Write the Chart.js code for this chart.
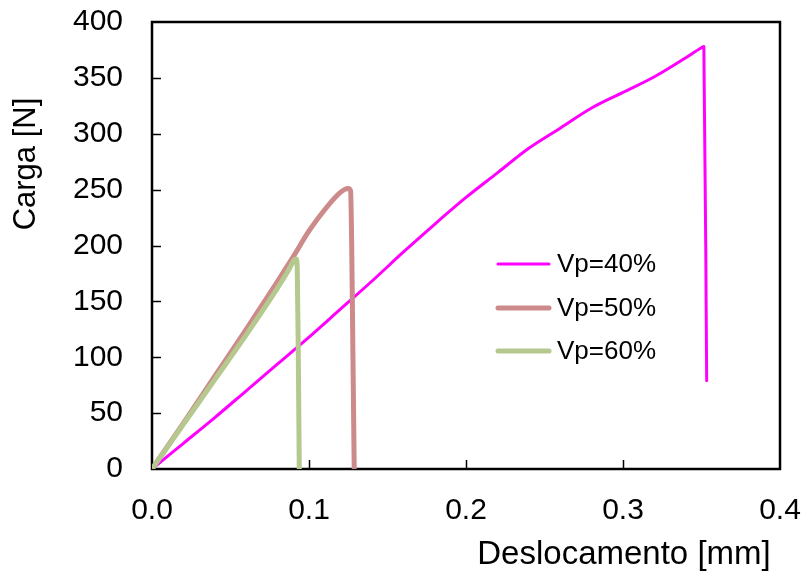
<!DOCTYPE html>
<html>
<head>
<meta charset="utf-8">
<script src="https://cdn.jsdelivr.net/npm/chart.js@4.4.0/dist/chart.umd.min.js"></script>
<style>
html,body{margin:0;padding:0;background:#fff;}
#wrap{width:806px;height:571px;}
</style>
</head>
<body>
<div id="wrap"><canvas id="c" width="806" height="571"></canvas></div>
<script>
// ---- data ----
const seriesLabels = ["Vp=40%", "Vp=50%", "Vp=60%"];

const vp40X = [0, 0.02, 0.04, 0.06, 0.08, 0.10, 0.12, 0.14, 0.16, 0.18, 0.20, 0.22, 0.24, 0.26, 0.28, 0.30, 0.32, 0.34, 0.350, 0.3515, 0.3533];
const vp40Y = [0, 23, 46, 70, 94, 118, 143, 168, 194, 219, 243, 265, 287, 305, 323, 337, 351, 368, 377, 378, 79];

const vp50X = [0, 0.02, 0.04, 0.06, 0.08, 0.09, 0.10, 0.11, 0.118, 0.1225, 0.1250, 0.1265, 0.1272, 0.1280, 0.1288];
const vp50Y = [0, 41, 83, 125, 168, 190, 213, 232, 245, 250, 251, 249, 200, 100, 0];

const vp60X = [0, 0.02, 0.04, 0.06, 0.08, 0.087, 0.0905, 0.0918, 0.0925, 0.0932, 0.0938];
const vp60Y = [0, 40, 80, 120, 162, 178, 187, 188, 180, 100, 0];

const xTicks = [0, 0.1, 0.2, 0.3, 0.4];
const yTicks = [0, 50, 100, 150, 200, 250, 300, 350, 400];

const xTitle = "Deslocamento [mm]";
const yTitle = "Carga [N]";

const colors = ["#ff00ff", "#cc8a8a", "#b5c98e"];
const widths = [3, 5, 5];

// ---- build ----
function pts(xs, ys) { return xs.map((x, i) => ({x: x, y: ys[i]})); }
const seriesData = [pts(vp40X, vp40Y), pts(vp50X, vp50Y), pts(vp60X, vp60Y)];

const FONT = "'Liberation Sans', Arial, Helvetica, sans-serif";

const decorPlugin = {
  id: 'decor',
  beforeDatasetsDraw(chart) {
    const ctx = chart.ctx, a = chart.chartArea;
    const xs = chart.scales.x, ys = chart.scales.y;
    ctx.save();
    ctx.strokeStyle = '#000';
    ctx.lineWidth = 1.5;
    yTicks.forEach(v => {
      if (v <= 0 || v >= 400) return;
      const p = Math.round(ys.getPixelForValue(v)) + 0.5;
      ctx.beginPath(); ctx.moveTo(a.left, p); ctx.lineTo(a.left + 9, p); ctx.stroke();
    });
    xTicks.forEach(v => {
      if (v <= 0 || v >= 0.4) return;
      const p = Math.round(xs.getPixelForValue(v)) + 0.5;
      ctx.beginPath(); ctx.moveTo(p, a.bottom); ctx.lineTo(p, a.bottom - 9); ctx.stroke();
    });
    ctx.lineWidth = 2.5;
    ctx.strokeRect(a.left, a.top, a.right - a.left, a.bottom - a.top);
    ctx.restore();
  },
  afterDraw(chart) {
    const ctx = chart.ctx;
    ctx.save();
    ctx.fillStyle = '#000';
    ctx.textAlign = 'center';
    ctx.textBaseline = 'middle';
    ctx.font = "33px " + FONT;
    ctx.fillText(xTitle, 624, 555);
    ctx.font = "31px " + FONT;
    ctx.translate(26, 164);
    ctx.rotate(-Math.PI / 2);
    ctx.fillText(yTitle, 0, 0);
    ctx.restore();
    // legend
    ctx.save();
    const rows = [264, 308, 351];
    chart.data.datasets.forEach((ds, i) => {
      ctx.strokeStyle = ds.borderColor;
      ctx.lineWidth = ds.borderWidth;
      ctx.lineCap = 'round';
      ctx.beginPath(); ctx.moveTo(498, rows[i]); ctx.lineTo(549, rows[i]); ctx.stroke();
      ctx.fillStyle = '#000';
      ctx.font = "26px " + FONT;
      ctx.textAlign = 'left';
      ctx.textBaseline = 'middle';
      ctx.fillText(ds.label, 557, rows[i] + 1);
    });
    ctx.restore();
  }
};

function noPad(s) {
  s.paddingTop = 0; s.paddingBottom = 0; s.paddingLeft = 0; s.paddingRight = 0;
}

new Chart(document.getElementById('c'), {
  type: 'scatter',
  data: {
    datasets: seriesData.map((d, i) => ({
      label: seriesLabels[i],
      data: d,
      showLine: true,
      borderColor: colors[i],
      backgroundColor: colors[i],
      borderWidth: widths[i],
      pointRadius: 0,
      pointHoverRadius: 0,
      cubicInterpolationMode: 'monotone',
      borderJoinStyle: 'round',
      borderCapStyle: 'round',
      order: 3 - i
    }))
  },
  options: {
    responsive: false,
    animation: false,
    events: [],
    layout: { padding: { top: 22, right: 26, left: 0, bottom: 0 } },
    plugins: { legend: { display: false }, tooltip: { enabled: false } },
    scales: {
      x: {
        type: 'linear',
        min: 0, max: 0.4,
        afterBuildTicks: s => { s.ticks = xTicks.map(v => ({value: v})); },
        afterFit: s => { s.height = 102; noPad(s); },
        grid: { display: false, drawTicks: false, tickLength: 0 },
        border: { display: false },
        ticks: {
          color: '#000',
          font: { family: FONT, size: 30 },
          padding: 24,
          maxRotation: 0,
          autoSkip: false,
          callback: v => Number(v).toFixed(1)
        }
      },
      y: {
        type: 'linear',
        min: 0, max: 400,
        afterBuildTicks: s => { s.ticks = yTicks.map(v => ({value: v})); },
        afterFit: s => { s.width = 152; noPad(s); },
        grid: { display: false, drawTicks: false, tickLength: 0 },
        border: { display: false },
        ticks: {
          color: '#000',
          font: { family: FONT, size: 30 },
          padding: 29,
          autoSkip: false,
          callback: v => String(v)
        }
      }
    }
  },
  plugins: [decorPlugin]
});
</script>
</body>
</html>
